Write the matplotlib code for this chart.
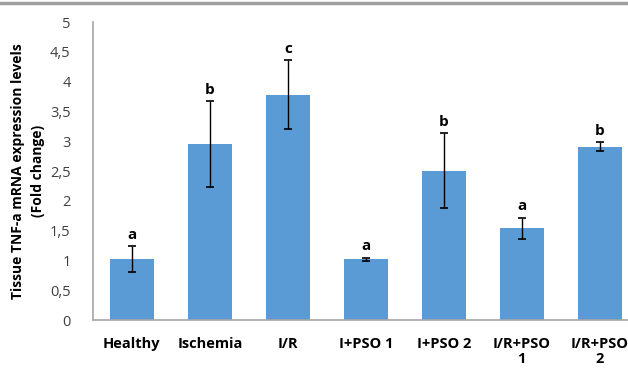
import matplotlib.pyplot as plt
from matplotlib.lines import Line2D
from matplotlib.ticker import FuncFormatter

groups = ['Healthy', 'Ischemia', 'I/R', 'I+PSO 1', 'I+PSO 2', 'I/R+PSO\n1', 'I/R+PSO\n2']
means = [1.02, 2.95, 3.78, 1.02, 2.51, 1.54, 2.91]
errors = [0.22, 0.72, 0.58, 0.03, 0.63, 0.18, 0.07]
letters = ['a', 'b', 'c', 'a', 'b', 'a', 'b']

plt.rcParams['font.family'] = ['Open Sans', 'DejaVu Sans']

fig = plt.figure(figsize=(6.28, 3.74), dpi=100)
ax = fig.add_axes([0.148, 0.144, 0.869, 0.797])

x = range(len(groups))
ax.bar(x, means, width=0.565, color='#5b9bd5', zorder=2)
ax.errorbar(x, means, yerr=errors, fmt='none', ecolor='black',
            elinewidth=1, capsize=3, capthick=1.2, zorder=3)

# significance letters above the error bars
for i, (m, e, l) in enumerate(zip(means, errors, letters)):
    ax.annotate(l, (i, m + e), xytext=(0, 3), textcoords='offset points',
                ha='center', va='bottom', fontsize=11, fontweight='bold')

ax.set_xlim(-0.5, len(groups) - 0.5)
ax.set_ylim(0, 5)
ax.set_yticks([0, 0.5, 1, 1.5, 2, 2.5, 3, 3.5, 4, 4.5, 5])
ax.yaxis.set_major_formatter(FuncFormatter(lambda v, p: f'{v:g}'.replace('.', ',')))
ax.set_xticks(list(x))
ax.set_xticklabels(groups, fontsize=10.5, fontweight='bold', linespacing=1.1)
ax.tick_params(axis='y', length=0, labelsize=10.5, labelcolor='#404040', pad=16)
ax.tick_params(axis='x', length=0, pad=12)

for s in ['top', 'right']:
    ax.spines[s].set_visible(False)
for s in ['left', 'bottom']:
    ax.spines[s].set_color('#a6a6a6')
    ax.spines[s].set_linewidth(1.2)

ax.set_ylabel('Tissue TNF-a mRNA expression levels\n(Fold change)',
              fontsize=10, fontweight='bold', linespacing=1.5, labelpad=4)

# gray frame line along the top of the picture
fig.add_artist(Line2D([0, 1], [0.992, 0.992], transform=fig.transFigure,
                      color='#a0a0a0', linewidth=2.5))

fig.savefig('out.png', dpi=100)
